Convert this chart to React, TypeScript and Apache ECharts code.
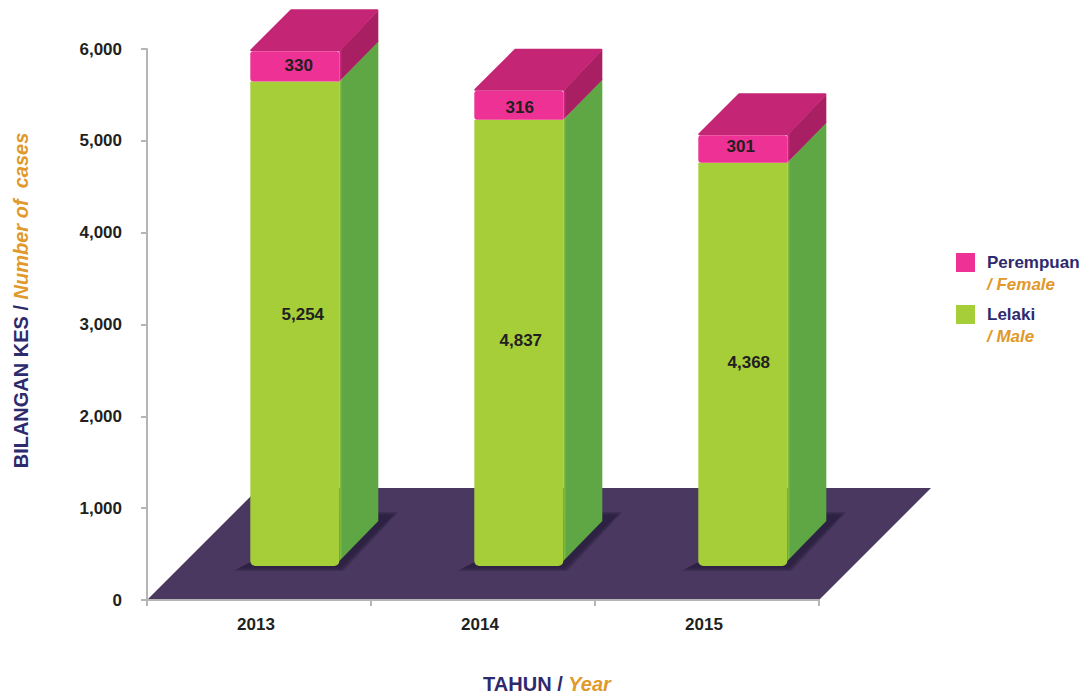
import React, { useEffect, useRef } from "react";
import * as echarts from "echarts";

const YEARS = ["2013", "2014", "2015"];
const MALE = [5254, 4837, 4368];
const FEMALE = [330, 316, 301];
const MALE_NUDGE = [[8, -9], [2, -2], [6, -2]];
const FEMALE_NUDGE = [[4, -1], [1, 2], [-2, -3]];
const Y_MAX = 6000;
const Y_STEP = 1000;

const NAVY = "#2e2a6e";
const ORANGE = "#e0992a";
const INK = "#231f20";
const FONT = '"Liberation Sans", Arial, sans-serif';

const BAR_W = 89;
const BAR_SHIFT = 35.8;
const LIFT = 36;
const DEPTH_X = 39;
const DEPTH_Y = 41;
const FLOOR_DEPTH = 112;
const SHADOW_SPREADS = [8, 6.5, 5, 3.5, 2, 0.5];

const fmt = (v: number) => v.toLocaleString("en-US");

function barItem(palette: any, labels: number[], nudges: number[][], top: boolean) {
  return (params: any, api: any) => {
    const i = api.value(0);
    const start = api.value(1);
    const end = api.value(2);
    const cx = api.coord([i, 0])[0] + BAR_SHIFT;
    const y0 = api.coord([i, start])[1] - LIFT + (start === 0 ? 2 : 0);
    const y1 = api.coord([i, end])[1] - LIFT;
    const xl = cx - BAR_W / 2;
    const xr = cx + BAR_W / 2;
    const rb = start === 0 ? 5 : 0;
    const children: any[] = [];
    if (start === 0) {
      SHADOW_SPREADS.forEach((s) => {
        children.push({
          type: "polygon",
          shape: {
            points: [
              [xl - 9 - s, y0 + 1 + s * 0.5],
              [xr + s * 0.5, y0 + 1 + s * 0.5],
              [xr + DEPTH_X + 12 + s, y0 - DEPTH_Y - 9 - s * 0.5],
              [xr + 10, y0 - DEPTH_Y - 9 - s * 0.5],
            ],
          },
          style: { fill: "#2b2040", opacity: 0.28 },
        });
      });
    }
    children.push({
      type: "polygon",
      shape: { points: [[xr, y0 - rb], [xr + DEPTH_X, y0 - rb - DEPTH_Y + 1], [xr + DEPTH_X, y1 - DEPTH_Y], [xr, y1]] },
      style: {
        fill: new echarts.graphic.LinearGradient(0, 0, 1, 0, [
          { offset: 0, color: palette.edge },
          { offset: 0.08, color: palette.side },
          { offset: 1, color: palette.side },
        ]),
      },
    });
    if (top) {
      children.push({
        type: "polygon",
        shape: { points: [[xl + 1, y1 - 1], [xr, y1 - 1], [xr + DEPTH_X - 1, y1 - DEPTH_Y], [xl + DEPTH_X + 2, y1 - DEPTH_Y]] },
        style: { fill: palette.top, stroke: palette.top, lineWidth: 2, lineJoin: "round" },
      });
    }
    children.push({
      type: "rect",
      shape: { x: xl, y: y1, width: BAR_W, height: y0 - y1, r: start === 0 ? [0, 0, 5, 5] : top ? [3, 3, 0, 3] : 0 },
      style: { fill: palette.front },
    });
    children.push({
      type: "text",
      style: {
        x: cx + nudges[i][0],
        y: (y0 + y1) / 2 + nudges[i][1],
        text: fmt(labels[i]),
        align: "center",
        verticalAlign: "middle",
        fontFamily: FONT,
        fontSize: 17,
        fontWeight: "bold",
        fill: INK,
      },
    });
    return { type: "group", children };
  };
}

export default function App() {
  const ref = useRef<HTMLDivElement>(null);
  useEffect(() => {
    const chart = echarts.init(ref.current!, null, { renderer: "svg" });
    chart.setOption({
      animation: false,
      backgroundColor: "#ffffff",
      textStyle: { fontFamily: FONT },
      grid: { left: 147, right: 267, top: 49, bottom: 93, containLabel: false, outerBoundsMode: "none" },
      legend: {
        orient: "vertical",
        left: 956,
        top: 232,
        itemWidth: 19,
        itemHeight: 19,
        itemGap: -9,
        padding: 0,
        selectedMode: false,
        data: [{ name: "Perempuan", icon: "rect" }, { name: "Lelaki", icon: "rect" }],
        formatter: (name: string) =>
          name === "Perempuan" ? "{c| }\n{a|Perempuan}\n{b|/ Female}" : "{c| }\n{a|Lelaki}\n{b|/ Male}",
        textStyle: {
          rich: {
            a: { fontFamily: FONT, fontSize: 17, fontWeight: "bold", color: NAVY, lineHeight: 22, padding: [0, 0, 0, 7] },
            b: { fontFamily: FONT, fontSize: 17, fontWeight: "bold", fontStyle: "italic", color: ORANGE, lineHeight: 22, padding: [0, 0, 0, 7] },
            c: { fontSize: 17, lineHeight: 22 },
          },
        },
      },
      xAxis: {
        type: "category",
        data: YEARS,
        z: 2,
        name: "{a|TAHUN / }{b|Year}",
        nameLocation: "middle",
        nameGap: 75,
        nameTextStyle: {
          padding: [0, 0, 0, 128],
          rich: {
            a: { fontFamily: FONT, fontSize: 20, fontWeight: "bold", color: NAVY, lineHeight: 17 },
            b: { fontFamily: FONT, fontSize: 20, fontWeight: "bold", fontStyle: "italic", color: ORANGE, lineHeight: 17 },
          },
        },
        axisLine: { show: true, lineStyle: { color: "#b5b5b5", width: 2 } },
        axisTick: { show: true, alignWithLabel: false, length: 6, lineStyle: { color: "#b5b5b5", width: 2 } },
        axisLabel: { margin: 16, color: INK, fontFamily: FONT, fontSize: 17, fontWeight: "bold", padding: [0, 6, 0, 0] },
      },
      yAxis: {
        type: "value",
        min: 0,
        max: Y_MAX,
        interval: Y_STEP,
        z: 2,
        name: "{a|BILANGAN KES / }{b|Number of  cases}",
        nameLocation: "middle",
        nameRotate: 90,
        nameGap: 116,
        nameTextStyle: {
          padding: [0, 0, 0, 48],
          rich: {
            a: { fontFamily: FONT, fontSize: 20, fontWeight: "bold", color: NAVY },
            b: { fontFamily: FONT, fontSize: 20, fontWeight: "bold", fontStyle: "italic", color: ORANGE },
          },
        },
        splitLine: { show: false },
        axisLine: { show: true, lineStyle: { color: "#b5b5b5", width: 2 } },
        axisTick: { show: true, length: 6, lineStyle: { color: "#b5b5b5", width: 2 } },
        axisLabel: { margin: 25, color: INK, fontFamily: FONT, fontSize: 17, fontWeight: "bold", formatter: (v: number) => fmt(v) },
      },
      series: [
        {
          type: "custom",
          name: "floor",
          silent: true,
          clip: false,
          z: 1,
          data: [[0, 0, 0]],
          renderItem: (params: any) => {
            const c = params.coordSys;
            const b = c.y + c.height;
            return {
              type: "polygon",
              shape: {
                points: [
                  [c.x, b],
                  [c.x + c.width, b],
                  [c.x + c.width + FLOOR_DEPTH, b - FLOOR_DEPTH],
                  [c.x + FLOOR_DEPTH, b - FLOOR_DEPTH],
                ],
              },
              style: { fill: "#4a3860" },
            };
          },
        },
        {
          type: "custom",
          name: "Lelaki",
          clip: false,
          z: 3,
          itemStyle: { color: "#a6ce39" },
          encode: { x: 0, y: [1, 2] },
          data: MALE.map((v, i) => [i, 0, v]),
          renderItem: barItem({ front: "#a6ce39", side: "#5fa744", edge: "#8cc63f" }, MALE, MALE_NUDGE, false),
        },
        {
          type: "custom",
          name: "Perempuan",
          clip: false,
          z: 4,
          itemStyle: { color: "#ee3194" },
          encode: { x: 0, y: [1, 2] },
          data: FEMALE.map((v, i) => [i, MALE[i], MALE[i] + v]),
          renderItem: barItem({ front: "#ee3194", side: "#a82063", top: "#c42574", edge: "#d92c86" }, FEMALE, FEMALE_NUDGE, true),
        },
      ],
    });
    return () => chart.dispose();
  }, []);
  return <div ref={ref} style={{ position: "absolute", left: 0, top: 0, width: 1086, height: 693 }} />;
}
